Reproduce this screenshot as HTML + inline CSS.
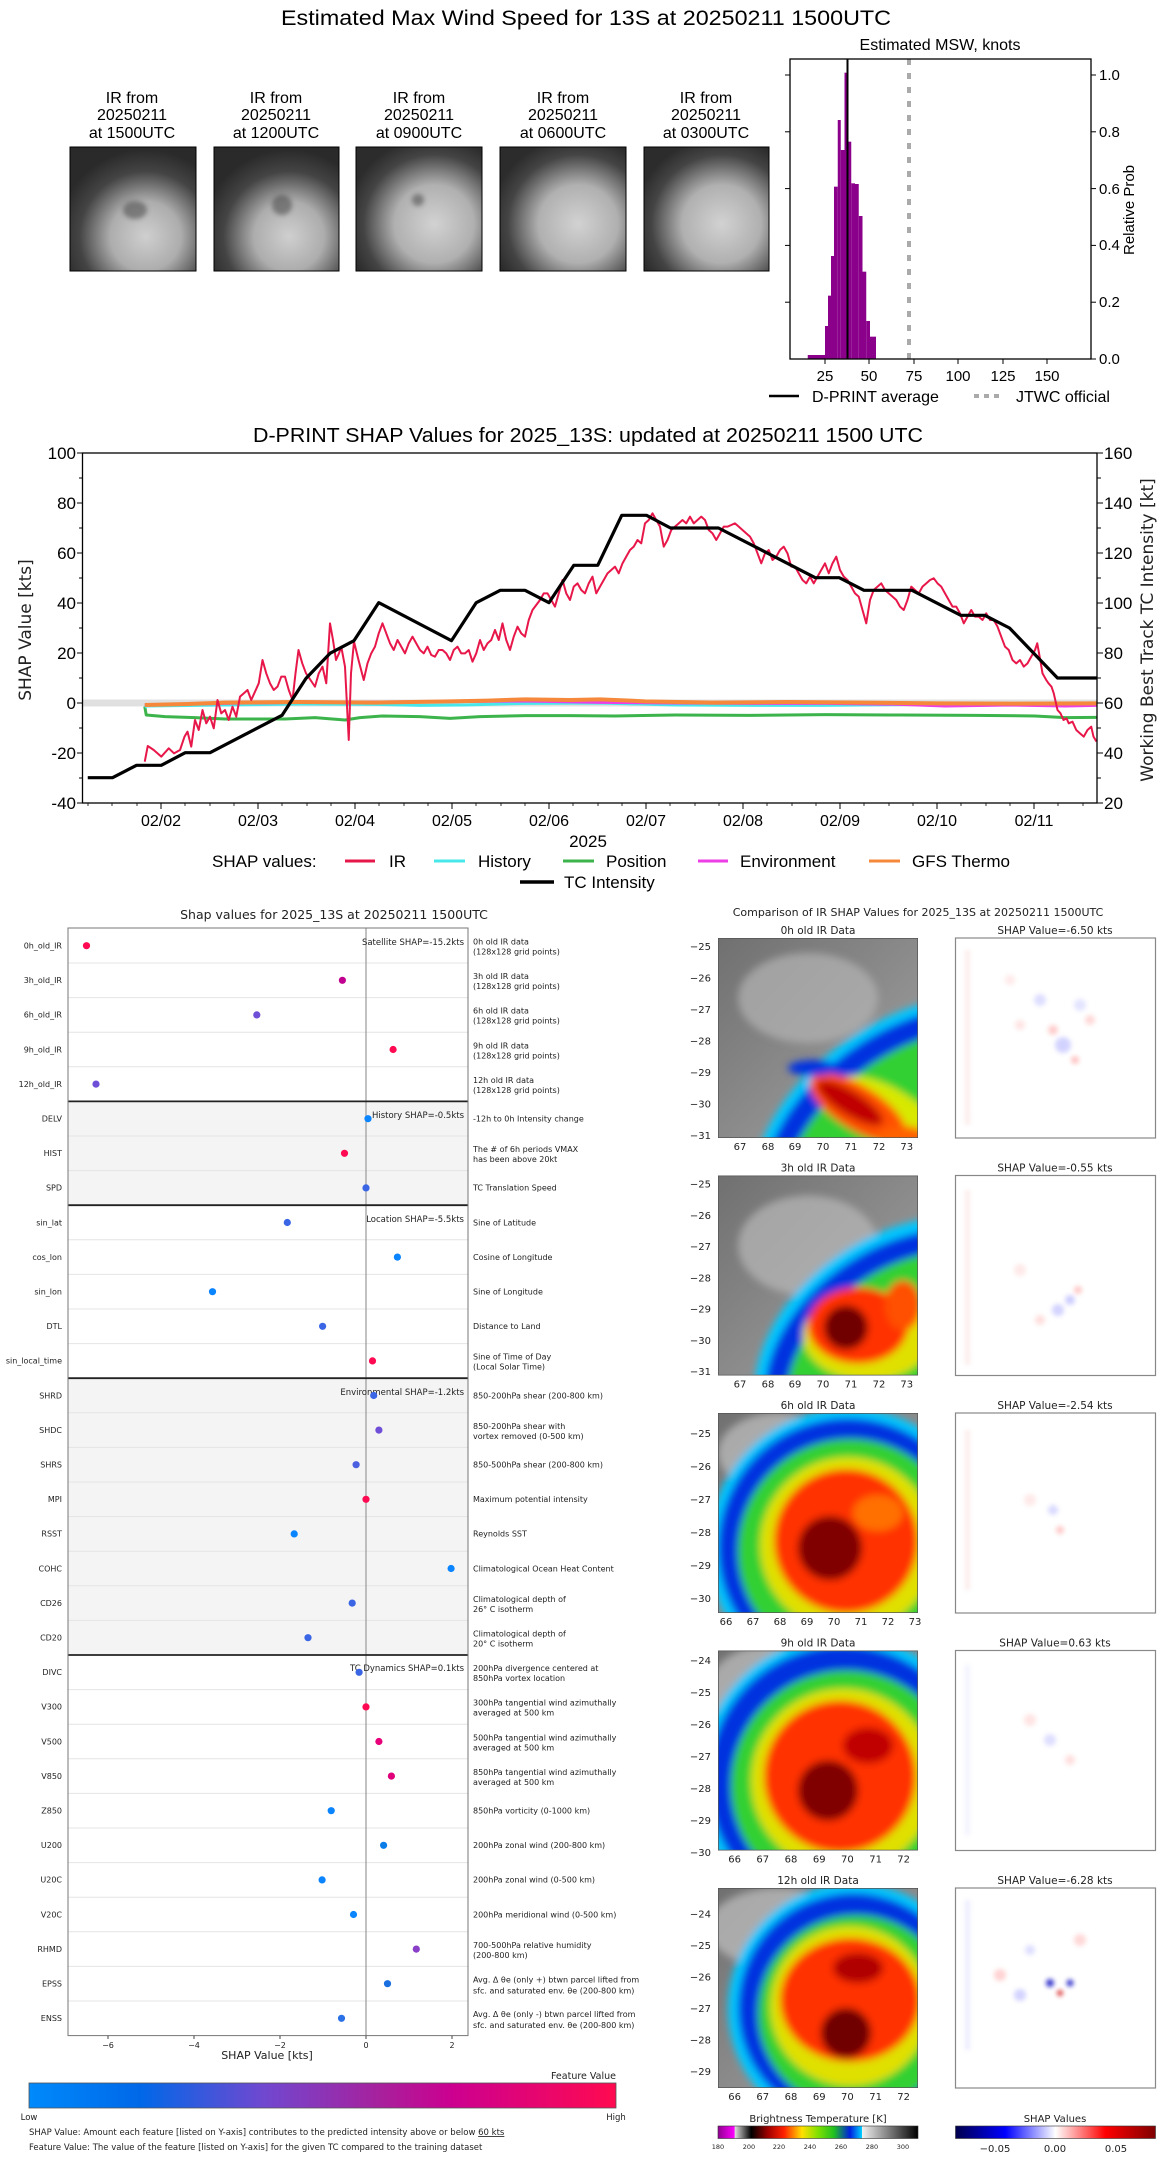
<!DOCTYPE html>
<html><head><meta charset="utf-8"><style>
html,body{margin:0;padding:0;background:#fff;}
svg{display:block;}
text{font-family:"DejaVu Sans","Liberation Sans",sans-serif;fill:#222;}
.ls{font-family:"Liberation Sans","DejaVu Sans",sans-serif;fill:#000;}
</style></head><body>
<svg width="1168" height="2158" viewBox="0 0 1168 2158" xmlns="http://www.w3.org/2000/svg">
<defs>
<filter id="bl" x="-20%" y="-20%" width="140%" height="140%"><feGaussianBlur stdDeviation="4"/></filter>
<filter id="bl2" x="-50%" y="-50%" width="200%" height="200%"><feGaussianBlur stdDeviation="2.5"/></filter>
<radialGradient id="th1" cx="0.6" cy="0.72" r="0.7"><stop offset="0" stop-color="#cfcfcf"/><stop offset="0.4" stop-color="#adadad"/><stop offset="0.75" stop-color="#444"/><stop offset="1" stop-color="#2a2a2a"/></radialGradient>
<radialGradient id="th2" cx="0.62" cy="0.62" r="0.7"><stop offset="0" stop-color="#d2d2d2"/><stop offset="0.45" stop-color="#b0b0b0"/><stop offset="0.8" stop-color="#444"/><stop offset="1" stop-color="#2c2c2c"/></radialGradient>
<linearGradient id="grayb" x1="0" y1="0" x2="1" y2="1"><stop offset="0" stop-color="#707070"/><stop offset="1" stop-color="#a4a4a4"/></linearGradient>
<linearGradient id="fv" x1="0" x2="1"><stop offset="0" stop-color="#008afb"/><stop offset="0.19" stop-color="#0068e8"/><stop offset="0.4" stop-color="#7048d0"/><stop offset="0.6" stop-color="#a8209c"/><stop offset="0.72" stop-color="#cc0090"/><stop offset="1" stop-color="#ff0a50"/></linearGradient>
<linearGradient id="bt" x1="0" x2="1">
<stop offset="0" stop-color="#900090"/><stop offset="0.083" stop-color="#ff00ff"/><stop offset="0.084" stop-color="#e0e0e0"/><stop offset="0.166" stop-color="#000"/><stop offset="0.25" stop-color="#a00000"/><stop offset="0.33" stop-color="#ff2000"/><stop offset="0.42" stop-color="#ffe000"/><stop offset="0.5" stop-color="#80e000"/><stop offset="0.58" stop-color="#20c020"/><stop offset="0.66" stop-color="#0020e0"/><stop offset="0.72" stop-color="#00d0ff"/><stop offset="0.721" stop-color="#f0f0f0"/><stop offset="1" stop-color="#000"/></linearGradient>
<linearGradient id="sw" x1="0" x2="1"><stop offset="0" stop-color="#00004c"/><stop offset="0.25" stop-color="#0000ff"/><stop offset="0.5" stop-color="#fff"/><stop offset="0.75" stop-color="#ff0000"/><stop offset="1" stop-color="#7f0000"/></linearGradient>
</defs>

<!-- ===== TOP SECTION ===== -->
<text class="ls" x="586" y="25" font-size="21" text-anchor="middle" textLength="610" lengthAdjust="spacingAndGlyphs">Estimated Max Wind Speed for 13S at 20250211 1500UTC</text>
<g class="ls" font-size="16" text-anchor="middle">
<text class="ls" x="132" y="103">IR from</text><text class="ls" x="132" y="120">20250211</text><text class="ls" x="132" y="138">at 1500UTC</text>
<text class="ls" x="276" y="103">IR from</text><text class="ls" x="276" y="120">20250211</text><text class="ls" x="276" y="138">at 1200UTC</text>
<text class="ls" x="419" y="103">IR from</text><text class="ls" x="419" y="120">20250211</text><text class="ls" x="419" y="138">at 0900UTC</text>
<text class="ls" x="563" y="103">IR from</text><text class="ls" x="563" y="120">20250211</text><text class="ls" x="563" y="138">at 0600UTC</text>
<text class="ls" x="706" y="103">IR from</text><text class="ls" x="706" y="120">20250211</text><text class="ls" x="706" y="138">at 0300UTC</text>
</g>
<g stroke="#000" stroke-width="1">
<rect x="70" y="147" width="126" height="124" fill="url(#th1)"/>
<rect x="214" y="147" width="125" height="124" fill="url(#th1)"/>
<rect x="356" y="147" width="126" height="124" fill="url(#th2)"/>
<rect x="500" y="147" width="126" height="124" fill="url(#th2)"/>
<rect x="644" y="147" width="125" height="124" fill="url(#th2)"/>
</g>
<g filter="url(#bl2)" fill="#333" opacity="0.45">
<ellipse cx="135" cy="210" rx="12" ry="9"/><ellipse cx="282" cy="205" rx="10" ry="10"/><ellipse cx="418" cy="200" rx="6" ry="6"/>
</g>

<!-- histogram -->
<g transform="scale(0.75,0.33333)" fill="#8b008b">
<rect x="1077" y="1065" width="23" height="13"/><rect x="1100" y="978" width="4" height="100"/><rect x="1104" y="887" width="4" height="191"/>
<rect x="1108" y="768" width="4" height="310"/><rect x="1112" y="560" width="5" height="518"/><rect x="1117" y="360" width="4" height="718"/>
<rect x="1121" y="450" width="5" height="628"/><rect x="1126" y="218" width="4" height="860"/><rect x="1130" y="425" width="5" height="653"/>
<rect x="1135" y="550" width="5" height="528"/><rect x="1140" y="552" width="5" height="526"/><rect x="1145" y="648" width="5" height="430"/>
<rect x="1150" y="815" width="5" height="263"/><rect x="1155" y="963" width="5" height="115"/><rect x="1160" y="1010" width="8" height="68"/>
</g>
<line x1="847.5" y1="59" x2="847.5" y2="359" stroke="#000" stroke-width="2"/>
<line x1="909" y1="59" x2="909" y2="359" stroke="#aaa" stroke-width="4" stroke-dasharray="6,8"/>
<rect x="790" y="59" width="301" height="300" fill="none" stroke="#000" stroke-width="1.3"/>
<text class="ls" x="940" y="50" font-size="16" text-anchor="middle">Estimated MSW, knots</text>
<g stroke="#000" stroke-width="1">
<line x1="1091" y1="359" x2="1096" y2="359"/><line x1="1091" y1="302.2" x2="1096" y2="302.2"/><line x1="1091" y1="245.4" x2="1096" y2="245.4"/><line x1="1091" y1="188.6" x2="1096" y2="188.6"/><line x1="1091" y1="131.8" x2="1096" y2="131.8"/><line x1="1091" y1="75" x2="1096" y2="75"/>
<line x1="785" y1="302.2" x2="790" y2="302.2"/><line x1="785" y1="245.4" x2="790" y2="245.4"/><line x1="785" y1="188.6" x2="790" y2="188.6"/><line x1="785" y1="131.8" x2="790" y2="131.8"/><line x1="785" y1="75" x2="790" y2="75"/>
<line x1="825" y1="359" x2="825" y2="364"/><line x1="869" y1="359" x2="869" y2="364"/><line x1="914" y1="359" x2="914" y2="364"/><line x1="958" y1="359" x2="958" y2="364"/><line x1="1003" y1="359" x2="1003" y2="364"/><line x1="1047" y1="359" x2="1047" y2="364"/>
</g>
<g class="ls" font-size="15">
<text class="ls" x="1099" y="364">0.0</text><text class="ls" x="1099" y="307">0.2</text><text class="ls" x="1099" y="250">0.4</text><text class="ls" x="1099" y="194">0.6</text><text class="ls" x="1099" y="137">0.8</text><text class="ls" x="1099" y="80">1.0</text>
</g>
<g class="ls" font-size="15" text-anchor="middle">
<text class="ls" x="825" y="381">25</text><text class="ls" x="869" y="381">50</text><text class="ls" x="914" y="381">75</text><text class="ls" x="958" y="381">100</text><text class="ls" x="1003" y="381">125</text><text class="ls" x="1047" y="381">150</text>
</g>
<text class="ls" font-size="15" transform="translate(1134,210) rotate(-90)" text-anchor="middle">Relative Prob</text>
<line x1="769" y1="396" x2="799" y2="396" stroke="#000" stroke-width="2.5"/>
<text class="ls" x="812" y="402" font-size="16">D-PRINT average</text>
<line x1="974" y1="396" x2="1004" y2="396" stroke="#aaa" stroke-width="4" stroke-dasharray="5,5"/>
<text class="ls" x="1016" y="402" font-size="16">JTWC official</text>

<!-- ===== SECTION 2 ===== -->
<text class="ls" x="588" y="442" font-size="20" text-anchor="middle" textLength="670" lengthAdjust="spacingAndGlyphs">D-PRINT SHAP Values for 2025_13S: updated at 20250211 1500 UTC</text>
<rect x="83" y="699.5" width="1014" height="7" fill="#e0e0e0"/>
<g transform="translate(0,420) scale(0.75,0.33333)" fill="none" stroke-linejoin="round">
<path vector-effect="non-scaling-stroke" stroke="#3cb44b" stroke-width="3" d="M193,860 L195,885 L220,890 L260,893 L300,897 L340,897 L380,897 L420,893 L460,900 L480,893 L510,888 L560,890 L600,895 L640,890 L700,887 L760,887 L820,888 L900,885 L1000,886 L1100,884 L1200,885 L1300,886 L1380,888 L1420,893 L1462,892"/>
<path vector-effect="non-scaling-stroke" stroke="#48e8ea" stroke-width="3" d="M193,862 L195,858 L300,855 L400,852 L500,853 L560,856 L620,855 L700,850 L800,849 L900,855 L1000,856 L1100,856 L1200,854 L1300,852 L1400,852 L1462,850"/>
<path vector-effect="non-scaling-stroke" stroke="#ee3ee6" stroke-width="3" d="M193,855 L300,850 L400,847 L500,846 L600,845 L700,843 L800,847 L900,849 L1000,850 L1100,850 L1200,853 L1260,858 L1350,855 L1420,858 L1462,856"/>
<path vector-effect="non-scaling-stroke" stroke="#f5883a" stroke-width="4" d="M193,855 L250,852 L300,848 L400,846 L500,848 L600,844 L650,842 L700,838 L760,840 L800,838 L860,844 L950,848 L1050,846 L1150,848 L1250,850 L1350,851 L1462,850"/>
<path vector-effect="non-scaling-stroke" stroke="#e8174a" stroke-width="2" d="M193,1025 L197,978 L205,990 L215,1010 L225,985 L232,1000 L240,990 L246,950 L250,935 L255,980 L260,900 L265,930 L270,870 L275,910 L280,890 L285,925 L290,840 L295,880 L300,870 L305,900 L310,860 L315,890 L320,830 L325,820 L330,810 L335,840 L340,815 L345,790 L350,720 L355,760 L360,790 L365,810 L370,800 L375,770 L380,770 L385,810 L390,840 L394,760 L398,690 L403,730 L408,760 L414,780 L420,800 L425,760 L430,740 L435,790 L440,610 L444,660 L448,720 L452,700 L455,680 L460,740 L465,960 L468,760 L472,665 L478,720 L485,780 L490,730 L495,700 L500,680 L505,640 L510,610 L515,640 L520,670 L525,690 L530,660 L535,680 L540,700 L545,670 L550,650 L555,670 L560,690 L565,700 L570,680 L575,705 L580,710 L585,690 L590,690 L595,700 L600,720 L605,690 L610,680 L615,700 L620,700 L625,690 L630,725 L635,700 L640,660 L645,690 L650,670 L655,660 L660,630 L665,660 L670,610 L675,660 L680,690 L685,650 L690,620 L695,640 L700,650 L705,600 L710,570 L715,555 L720,540 L725,520 L730,520 L735,540 L740,560 L745,520 L750,480 L755,520 L760,540 L765,500 L770,490 L775,510 L780,520 L785,490 L790,470 L795,520 L800,500 L805,480 L810,460 L815,450 L820,440 L825,460 L830,430 L835,410 L840,390 L845,380 L850,360 L855,370 L860,310 L865,300 L870,280 L875,300 L880,320 L885,380 L890,360 L895,330 L900,320 L905,310 L910,300 L915,310 L920,290 L925,310 L930,300 L935,290 L940,300 L945,330 L950,340 L955,360 L960,340 L965,320 L970,320 L975,315 L980,310 L985,320 L990,330 L995,340 L1000,350 L1005,370 L1010,400 L1015,430 L1020,400 L1025,390 L1030,420 L1035,410 L1040,390 L1045,380 L1050,400 L1055,440 L1060,440 L1065,460 L1070,480 L1075,490 L1080,470 L1085,490 L1090,470 L1095,450 L1100,430 L1105,460 L1110,430 L1115,410 L1120,450 L1125,470 L1130,480 L1135,500 L1140,520 L1145,530 L1150,570 L1155,610 L1160,540 L1165,510 L1170,500 L1175,490 L1180,510 L1185,520 L1190,530 L1195,540 L1200,560 L1205,570 L1210,540 L1215,500 L1220,510 L1225,520 L1230,500 L1235,490 L1240,480 L1245,475 L1250,490 L1255,500 L1260,520 L1265,540 L1270,560 L1275,560 L1280,580 L1285,610 L1290,590 L1295,570 L1300,590 L1305,590 L1310,600 L1315,580 L1320,600 L1325,600 L1330,620 L1335,650 L1340,680 L1345,690 L1350,720 L1355,730 L1360,720 L1365,740 L1370,730 L1375,710 L1380,690 L1383,670 L1387,720 L1390,760 L1395,780 L1398,790 L1402,800 L1405,820 L1408,850 L1410,870 L1414,880 L1418,900 L1422,895 L1425,910 L1430,905 L1435,930 L1440,940 L1445,950 L1450,930 L1455,920 L1458,950 L1462,965"/>
<path vector-effect="non-scaling-stroke" stroke="#000" stroke-width="3.2" d="M117,1073 L150,1073 L182,1036 L215,1036 L247,998 L280,998 L376,886 L408,775 L440,700 L472,662 L505,548 L602,662 L635,548 L667,511 L700,511 L732,548 L765,436 L797,436 L829,286 L862,286 L894,324 L958,324 L1087,473 L1119,473 L1152,511 L1216,511 L1281,586 L1313,586 L1346,624 L1410,774 L1462,774"/>
</g>
<rect x="82.5" y="453" width="1014.5" height="350" fill="none" stroke="#000" stroke-width="1.3"/>
<g stroke="#000" stroke-width="1">
<line x1="77" y1="453" x2="82.5" y2="453"/><line x1="77" y1="503" x2="82.5" y2="503"/><line x1="77" y1="553" x2="82.5" y2="553"/><line x1="77" y1="603" x2="82.5" y2="603"/><line x1="77" y1="653" x2="82.5" y2="653"/><line x1="77" y1="703" x2="82.5" y2="703"/><line x1="77" y1="753" x2="82.5" y2="753"/><line x1="77" y1="803" x2="82.5" y2="803"/>
<line x1="79" y1="478" x2="82.5" y2="478"/><line x1="79" y1="528" x2="82.5" y2="528"/><line x1="79" y1="578" x2="82.5" y2="578"/><line x1="79" y1="628" x2="82.5" y2="628"/><line x1="79" y1="678" x2="82.5" y2="678"/><line x1="79" y1="728" x2="82.5" y2="728"/><line x1="79" y1="778" x2="82.5" y2="778"/>
<line x1="1097" y1="453" x2="1103" y2="453"/><line x1="1097" y1="503" x2="1103" y2="503"/><line x1="1097" y1="553" x2="1103" y2="553"/><line x1="1097" y1="603" x2="1103" y2="603"/><line x1="1097" y1="653" x2="1103" y2="653"/><line x1="1097" y1="703" x2="1103" y2="703"/><line x1="1097" y1="753" x2="1103" y2="753"/><line x1="1097" y1="803" x2="1103" y2="803"/>
<line x1="1097" y1="478" x2="1101" y2="478"/><line x1="1097" y1="528" x2="1101" y2="528"/><line x1="1097" y1="578" x2="1101" y2="578"/><line x1="1097" y1="628" x2="1101" y2="628"/><line x1="1097" y1="678" x2="1101" y2="678"/><line x1="1097" y1="728" x2="1101" y2="728"/><line x1="1097" y1="778" x2="1101" y2="778"/>
<line x1="161" y1="803" x2="161" y2="809"/><line x1="258" y1="803" x2="258" y2="809"/><line x1="355" y1="803" x2="355" y2="809"/><line x1="452" y1="803" x2="452" y2="809"/><line x1="549" y1="803" x2="549" y2="809"/><line x1="646" y1="803" x2="646" y2="809"/><line x1="743" y1="803" x2="743" y2="809"/><line x1="840" y1="803" x2="840" y2="809"/><line x1="937" y1="803" x2="937" y2="809"/><line x1="1034" y1="803" x2="1034" y2="809"/>
</g>
<g stroke="#000" stroke-width="0.8">
<line x1="88" y1="803" x2="88" y2="806"/><line x1="112" y1="803" x2="112" y2="806"/><line x1="137" y1="803" x2="137" y2="806"/><line x1="185" y1="803" x2="185" y2="806"/><line x1="210" y1="803" x2="210" y2="806"/><line x1="234" y1="803" x2="234" y2="806"/><line x1="282" y1="803" x2="282" y2="806"/><line x1="307" y1="803" x2="307" y2="806"/><line x1="331" y1="803" x2="331" y2="806"/><line x1="379" y1="803" x2="379" y2="806"/><line x1="404" y1="803" x2="404" y2="806"/><line x1="428" y1="803" x2="428" y2="806"/><line x1="476" y1="803" x2="476" y2="806"/><line x1="501" y1="803" x2="501" y2="806"/><line x1="525" y1="803" x2="525" y2="806"/><line x1="573" y1="803" x2="573" y2="806"/><line x1="598" y1="803" x2="598" y2="806"/><line x1="622" y1="803" x2="622" y2="806"/><line x1="670" y1="803" x2="670" y2="806"/><line x1="695" y1="803" x2="695" y2="806"/><line x1="719" y1="803" x2="719" y2="806"/><line x1="767" y1="803" x2="767" y2="806"/><line x1="792" y1="803" x2="792" y2="806"/><line x1="816" y1="803" x2="816" y2="806"/><line x1="864" y1="803" x2="864" y2="806"/><line x1="889" y1="803" x2="889" y2="806"/><line x1="913" y1="803" x2="913" y2="806"/><line x1="961" y1="803" x2="961" y2="806"/><line x1="986" y1="803" x2="986" y2="806"/><line x1="1010" y1="803" x2="1010" y2="806"/><line x1="1058" y1="803" x2="1058" y2="806"/><line x1="1083" y1="803" x2="1083" y2="806"/>
</g>
<g class="ls" font-size="17" text-anchor="end">
<text class="ls" x="76" y="459">100</text><text class="ls" x="76" y="509">80</text><text class="ls" x="76" y="559">60</text><text class="ls" x="76" y="609">40</text><text class="ls" x="76" y="659">20</text><text class="ls" x="76" y="709">0</text><text class="ls" x="76" y="759">-20</text><text class="ls" x="76" y="809">-40</text>
</g>
<g class="ls" font-size="17">
<text class="ls" x="1104" y="459">160</text><text class="ls" x="1104" y="509">140</text><text class="ls" x="1104" y="559">120</text><text class="ls" x="1104" y="609">100</text><text class="ls" x="1104" y="659">80</text><text class="ls" x="1104" y="709">60</text><text class="ls" x="1104" y="759">40</text><text class="ls" x="1104" y="809">20</text>
</g>
<g class="ls" font-size="16" text-anchor="middle">
<text class="ls" x="161" y="826">02/02</text><text class="ls" x="258" y="826">02/03</text><text class="ls" x="355" y="826">02/04</text><text class="ls" x="452" y="826">02/05</text><text class="ls" x="549" y="826">02/06</text><text class="ls" x="646" y="826">02/07</text><text class="ls" x="743" y="826">02/08</text><text class="ls" x="840" y="826">02/09</text><text class="ls" x="937" y="826">02/10</text><text class="ls" x="1034" y="826">02/11</text>
<text class="ls" x="588" y="847" font-size="17">2025</text>
</g>
<text font-size="17" fill="#000" transform="translate(31,630) rotate(-90)" text-anchor="middle">SHAP Value [kts]</text>
<text font-size="17" fill="#000" transform="translate(1153,630) rotate(-90)" text-anchor="middle">Working Best Track TC Intensity [kt]</text>
<g class="ls" font-size="17">
<text class="ls" x="212" y="867">SHAP values:</text>
<line x1="345" y1="861" x2="375" y2="861" stroke="#e8174a" stroke-width="3"/><text class="ls" x="389" y="867">IR</text>
<line x1="434" y1="861" x2="465" y2="861" stroke="#48e8ea" stroke-width="3"/><text class="ls" x="478" y="867">History</text>
<line x1="563" y1="861" x2="594" y2="861" stroke="#3cb44b" stroke-width="3"/><text class="ls" x="606" y="867">Position</text>
<line x1="698" y1="861" x2="728" y2="861" stroke="#ee3ee6" stroke-width="3"/><text class="ls" x="740" y="867">Environment</text>
<line x1="869" y1="861" x2="900" y2="861" stroke="#f5883a" stroke-width="3"/><text class="ls" x="912" y="867">GFS Thermo</text>
<line x1="520" y1="882" x2="554" y2="882" stroke="#000" stroke-width="3.5"/><text class="ls" x="564" y="888">TC Intensity</text>
</g>

<!-- ===== SECTION 3 LEFT ===== -->
<text x="334" y="919" font-size="12.5" text-anchor="middle" fill="#111">Shap values for 2025_13S at 20250211 1500UTC</text>
<rect x="68" y="1101.4" width="400" height="103.8" fill="#f4f4f4"/>
<rect x="68" y="1378.2" width="400" height="276.8" fill="#f4f4f4"/>
<g stroke="#e4e4e4" stroke-width="1">
<line x1="68" y1="963" x2="468" y2="963"/><line x1="68" y1="997.6" x2="468" y2="997.6"/><line x1="68" y1="1032.2" x2="468" y2="1032.2"/><line x1="68" y1="1066.8" x2="468" y2="1066.8"/>
<line x1="68" y1="1136" x2="468" y2="1136"/><line x1="68" y1="1170.6" x2="468" y2="1170.6"/>
<line x1="68" y1="1239.8" x2="468" y2="1239.8"/><line x1="68" y1="1274.4" x2="468" y2="1274.4"/><line x1="68" y1="1309" x2="468" y2="1309"/><line x1="68" y1="1343.6" x2="468" y2="1343.6"/>
<line x1="68" y1="1412.8" x2="468" y2="1412.8"/><line x1="68" y1="1447.4" x2="468" y2="1447.4"/><line x1="68" y1="1482" x2="468" y2="1482"/><line x1="68" y1="1516.6" x2="468" y2="1516.6"/><line x1="68" y1="1551.2" x2="468" y2="1551.2"/><line x1="68" y1="1585.8" x2="468" y2="1585.8"/><line x1="68" y1="1620.4" x2="468" y2="1620.4"/>
<line x1="68" y1="1689.6" x2="468" y2="1689.6"/><line x1="68" y1="1724.2" x2="468" y2="1724.2"/><line x1="68" y1="1758.8" x2="468" y2="1758.8"/><line x1="68" y1="1793.4" x2="468" y2="1793.4"/><line x1="68" y1="1828" x2="468" y2="1828"/><line x1="68" y1="1862.6" x2="468" y2="1862.6"/><line x1="68" y1="1897.2" x2="468" y2="1897.2"/><line x1="68" y1="1931.8" x2="468" y2="1931.8"/><line x1="68" y1="1966.4" x2="468" y2="1966.4"/><line x1="68" y1="2001" x2="468" y2="2001"/>
</g>
<line x1="366" y1="928" x2="366" y2="2035.6" stroke="#999" stroke-width="1.2"/>
<g stroke="#222" stroke-width="1.8">
<line x1="68" y1="1101.4" x2="468" y2="1101.4"/><line x1="68" y1="1205.2" x2="468" y2="1205.2"/><line x1="68" y1="1378.2" x2="468" y2="1378.2"/><line x1="68" y1="1655" x2="468" y2="1655"/>
</g>
<rect x="68" y="928" width="400" height="1107.6" fill="none" stroke="#777" stroke-width="1"/>
<g font-size="8.5" text-anchor="end" fill="#222">
<text x="464" y="945">Satellite SHAP=-15.2kts</text><text x="464" y="1118">History SHAP=-0.5kts</text><text x="464" y="1222">Location SHAP=-5.5kts</text><text x="464" y="1395">Environmental SHAP=-1.2kts</text><text x="464" y="1671">TC Dynamics SHAP=0.1kts</text>
</g>
<g font-size="8" text-anchor="end" fill="#222">
<text x="62" y="948.5">0h_old_IR</text><text x="62" y="983">3h_old_IR</text><text x="62" y="1017.7">6h_old_IR</text><text x="62" y="1052.3">9h_old_IR</text><text x="62" y="1086.9">12h_old_IR</text>
<text x="62" y="1121.5">DELV</text><text x="62" y="1156.1">HIST</text><text x="62" y="1190.7">SPD</text>
<text x="62" y="1225.3">sin_lat</text><text x="62" y="1259.9">cos_lon</text><text x="62" y="1294.5">sin_lon</text><text x="62" y="1329.1">DTL</text><text x="62" y="1363.7">sin_local_time</text>
<text x="62" y="1398.3">SHRD</text><text x="62" y="1432.9">SHDC</text><text x="62" y="1467.5">SHRS</text><text x="62" y="1502.1">MPI</text><text x="62" y="1536.7">RSST</text><text x="62" y="1571.3">COHC</text><text x="62" y="1605.9">CD26</text><text x="62" y="1640.5">CD20</text>
<text x="62" y="1675.1">DIVC</text><text x="62" y="1709.7">V300</text><text x="62" y="1744.3">V500</text><text x="62" y="1778.9">V850</text><text x="62" y="1813.5">Z850</text><text x="62" y="1848.1">U200</text><text x="62" y="1882.7">U20C</text><text x="62" y="1917.3">V20C</text><text x="62" y="1951.9">RHMD</text><text x="62" y="1986.5">EPSS</text><text x="62" y="2021.1">ENSS</text>
</g>
<g font-size="8" fill="#222">
<text x="473" y="944.5">0h old IR data</text><text x="473" y="954.5">(128x128 grid points)</text>
<text x="473" y="979">3h old IR data</text><text x="473" y="989">(128x128 grid points)</text>
<text x="473" y="1013.7">6h old IR data</text><text x="473" y="1023.7">(128x128 grid points)</text>
<text x="473" y="1048.3">9h old IR data</text><text x="473" y="1058.3">(128x128 grid points)</text>
<text x="473" y="1082.9">12h old IR data</text><text x="473" y="1092.9">(128x128 grid points)</text>
<text x="473" y="1121.5">-12h to 0h Intensity change</text>
<text x="473" y="1152.1">The # of 6h periods VMAX</text><text x="473" y="1162.1">has been above 20kt</text>
<text x="473" y="1190.7">TC Translation Speed</text>
<text x="473" y="1225.3">Sine of Latitude</text><text x="473" y="1259.9">Cosine of Longitude</text><text x="473" y="1294.5">Sine of Longitude</text><text x="473" y="1329.1">Distance to Land</text>
<text x="473" y="1359.7">Sine of Time of Day</text><text x="473" y="1369.7">(Local Solar Time)</text>
<text x="473" y="1398.3">850-200hPa shear (200-800 km)</text>
<text x="473" y="1428.9">850-200hPa shear with</text><text x="473" y="1438.9">vortex removed (0-500 km)</text>
<text x="473" y="1467.5">850-500hPa shear (200-800 km)</text>
<text x="473" y="1502.1">Maximum potential intensity</text>
<text x="473" y="1536.7">Reynolds SST</text>
<text x="473" y="1571.3">Climatological Ocean Heat Content</text>
<text x="473" y="1601.9">Climatological depth of</text><text x="473" y="1611.9">26° C isotherm</text>
<text x="473" y="1636.5">Climatological depth of</text><text x="473" y="1646.5">20° C isotherm</text>
<text x="473" y="1671.1">200hPa divergence centered at</text><text x="473" y="1681.1">850hPa vortex location</text>
<text x="473" y="1705.7">300hPa tangential wind azimuthally</text><text x="473" y="1715.7">averaged at 500 km</text>
<text x="473" y="1740.3">500hPa tangential wind azimuthally</text><text x="473" y="1750.3">averaged at 500 km</text>
<text x="473" y="1774.9">850hPa tangential wind azimuthally</text><text x="473" y="1784.9">averaged at 500 km</text>
<text x="473" y="1813.5">850hPa vorticity (0-1000 km)</text>
<text x="473" y="1848.1">200hPa zonal wind (200-800 km)</text>
<text x="473" y="1882.7">200hPa zonal wind (0-500 km)</text>
<text x="473" y="1917.3">200hPa meridional wind (0-500 km)</text>
<text x="473" y="1947.9">700-500hPa relative humidity</text><text x="473" y="1957.9">(200-800 km)</text>
<text x="473" y="1982.5">Avg. Δ θe (only +) btwn parcel lifted from</text><text x="473" y="1993.5">sfc. and saturated env. θe (200-800 km)</text>
<text x="473" y="2017.1">Avg. Δ θe (only -) btwn parcel lifted from</text><text x="473" y="2028.1">sfc. and saturated env. θe (200-800 km)</text>
</g>
<g>
<circle cx="86.5" cy="945.7" r="3.6" fill="#ff0a52"/><circle cx="342.4" cy="980.3" r="3.6" fill="#c2008f"/><circle cx="256.8" cy="1014.9" r="3.6" fill="#6f4fd8"/><circle cx="393.1" cy="1049.5" r="3.6" fill="#ff0a52"/><circle cx="96" cy="1084.1" r="3.6" fill="#6f4fd8"/>
<circle cx="368" cy="1118.7" r="3.6" fill="#0a84ff"/><circle cx="344.5" cy="1153.3" r="3.6" fill="#ff0a52"/><circle cx="366" cy="1187.9" r="3.6" fill="#3a66e6"/>
<circle cx="287.3" cy="1222.5" r="3.6" fill="#3a66e6"/><circle cx="397.4" cy="1257.1" r="3.6" fill="#0a84ff"/><circle cx="212.5" cy="1291.7" r="3.6" fill="#0a84ff"/><circle cx="322.6" cy="1326.3" r="3.6" fill="#3a66e6"/><circle cx="372.5" cy="1360.9" r="3.6" fill="#ff0a52"/>
<circle cx="373.7" cy="1395.5" r="3.6" fill="#3a66e6"/><circle cx="378.9" cy="1430.1" r="3.6" fill="#6f4fd8"/><circle cx="356.1" cy="1464.7" r="3.6" fill="#4a60e0"/><circle cx="366" cy="1499.3" r="3.6" fill="#ff0a52"/><circle cx="294.2" cy="1533.9" r="3.6" fill="#0a84ff"/><circle cx="451.1" cy="1568.5" r="3.6" fill="#0a84ff"/><circle cx="352.2" cy="1603.1" r="3.6" fill="#3a66e6"/><circle cx="308" cy="1637.7" r="3.6" fill="#3a66e6"/>
<circle cx="359.1" cy="1672.3" r="3.6" fill="#3a66e6"/><circle cx="366" cy="1706.9" r="3.6" fill="#ff0a52"/><circle cx="378.9" cy="1741.5" r="3.6" fill="#e8007a"/><circle cx="391.4" cy="1776.1" r="3.6" fill="#e0007a"/><circle cx="331.2" cy="1810.7" r="3.6" fill="#0a84ff"/><circle cx="383.6" cy="1845.3" r="3.6" fill="#0a7de8"/><circle cx="322.1" cy="1879.9" r="3.6" fill="#0a84ff"/><circle cx="353.5" cy="1914.5" r="3.6" fill="#0a84ff"/><circle cx="416.3" cy="1949.1" r="3.6" fill="#8a3fc8"/><circle cx="387.5" cy="1983.7" r="3.6" fill="#1a6fe0"/><circle cx="341.5" cy="2018.3" r="3.6" fill="#2a70e6"/>
</g>
<g stroke="#444" stroke-width="1">
<line x1="108" y1="2035.6" x2="108" y2="2039"/><line x1="194" y1="2035.6" x2="194" y2="2039"/><line x1="280" y1="2035.6" x2="280" y2="2039"/><line x1="366" y1="2035.6" x2="366" y2="2039"/><line x1="452" y1="2035.6" x2="452" y2="2039"/>
</g>
<g font-size="8" text-anchor="middle" fill="#222">
<text x="108" y="2048">−6</text><text x="194" y="2048">−4</text><text x="280" y="2048">−2</text><text x="366" y="2048">0</text><text x="452" y="2048">2</text>
</g>
<text x="267" y="2059" font-size="11" text-anchor="middle" fill="#111">SHAP Value [kts]</text>
<text x="616" y="2079" font-size="9.5" text-anchor="end" fill="#222">Feature Value</text>
<rect x="29" y="2083" width="587" height="25" fill="url(#fv)" stroke="#555" stroke-width="0.8"/>
<text x="29" y="2120" font-size="8.5" text-anchor="middle" fill="#222">Low</text>
<text x="616" y="2120" font-size="8.5" text-anchor="middle" fill="#222">High</text>
<text x="29" y="2135" font-size="8.5" fill="#222">SHAP Value: Amount each feature [listed on Y-axis] contributes to the predicted intensity above or below <tspan text-decoration="underline">60 kts</tspan></text>
<text x="29" y="2150" font-size="8.5" fill="#222">Feature Value: The value of the feature [listed on Y-axis] for the given TC compared to the training dataset</text>

<!-- ===== SECTION 3 RIGHT ===== -->
<text x="918" y="916" font-size="11" text-anchor="middle" fill="#111">Comparison of IR SHAP Values for 2025_13S at 20250211 1500UTC</text>

<!-- panel 1 -->
<text x="818" y="934" font-size="10.5" text-anchor="middle" fill="#111">0h old IR Data</text>
<text x="1055" y="934" font-size="10.5" text-anchor="middle" fill="#111">SHAP Value=-6.50 kts</text>
<svg x="718" y="938" width="200" height="200" overflow="hidden">
<rect width="200" height="200" fill="url(#grayb)"/>
<g filter="url(#bl)">
<ellipse cx="90" cy="60" rx="70" ry="45" fill="#b4b4b4" opacity="0.7"/>
<ellipse cx="200" cy="205" rx="185" ry="125" transform="rotate(-35 200 205)" fill="#00c8ff"/>
<ellipse cx="200" cy="205" rx="175" ry="115" transform="rotate(-35 200 205)" fill="#0030e0"/>
<ellipse cx="205" cy="212" rx="158" ry="100" transform="rotate(-35 205 212)" fill="#30d030"/>
<ellipse cx="170" cy="175" rx="60" ry="25" transform="rotate(30 170 175)" fill="#d8e800"/>
<ellipse cx="140" cy="170" rx="55" ry="22" transform="rotate(32 140 170)" fill="#ff5000"/>
<ellipse cx="132" cy="165" rx="38" ry="12" transform="rotate(32 132 165)" fill="#c00000"/>
<ellipse cx="185" cy="200" rx="25" ry="12" fill="#ff6000"/>
<ellipse cx="95" cy="130" rx="25" ry="8" fill="#0030e0"/>
</g>
<rect width="200" height="200" fill="none" stroke="#555" stroke-width="1.5"/>
</svg>
<!-- panel 2 -->
<text x="818" y="1171.5" font-size="10.5" text-anchor="middle" fill="#111">3h old IR Data</text>
<text x="1055" y="1171.5" font-size="10.5" text-anchor="middle" fill="#111">SHAP Value=-0.55 kts</text>
<svg x="718" y="1175.5" width="200" height="200" overflow="hidden">
<rect width="200" height="200" fill="url(#grayb)"/>
<g filter="url(#bl)">
<ellipse cx="90" cy="70" rx="70" ry="50" fill="#b8b8b8" opacity="0.7"/>
<ellipse cx="195" cy="180" rx="170" ry="125" transform="rotate(-32 195 180)" fill="#00c8ff"/>
<ellipse cx="195" cy="182" rx="160" ry="115" transform="rotate(-32 195 182)" fill="#0030e0"/>
<ellipse cx="200" cy="188" rx="142" ry="100" transform="rotate(-32 200 188)" fill="#30d030"/>
<ellipse cx="150" cy="160" rx="65" ry="45" fill="#e0e000"/>
<ellipse cx="140" cy="150" rx="50" ry="38" fill="#ff3000"/>
<circle cx="128" cy="152" r="22" fill="#700000"/>
<ellipse cx="185" cy="130" rx="18" ry="25" fill="#ff5000"/>
</g>
<rect width="200" height="200" fill="none" stroke="#555" stroke-width="1.5"/>
</svg>
<!-- panel 3 -->
<text x="818" y="1409" font-size="10.5" text-anchor="middle" fill="#111">6h old IR Data</text>
<text x="1055" y="1409" font-size="10.5" text-anchor="middle" fill="#111">SHAP Value=-2.54 kts</text>
<svg x="718" y="1413" width="200" height="200" overflow="hidden">
<rect width="200" height="200" fill="url(#grayb)"/>
<g filter="url(#bl)">
<ellipse cx="60" cy="40" rx="60" ry="40" fill="#c0c0c0" opacity="0.7"/>
<circle cx="130" cy="135" r="140" fill="#00c8ff"/>
<circle cx="130" cy="135" r="130" fill="#0030e0"/>
<circle cx="132" cy="138" r="112" fill="#30d030"/>
<circle cx="130" cy="132" r="88" fill="#e0e000"/>
<circle cx="128" cy="128" r="72" fill="#ff3000"/>
<ellipse cx="160" cy="100" rx="25" ry="18" fill="#ff7000"/>
<circle cx="112" cy="135" r="32" fill="#800000"/>
</g>
<rect width="200" height="200" fill="none" stroke="#555" stroke-width="1.5"/>
</svg>
<!-- panel 4 -->
<text x="818" y="1646.5" font-size="10.5" text-anchor="middle" fill="#111">9h old IR Data</text>
<text x="1055" y="1646.5" font-size="10.5" text-anchor="middle" fill="#111">SHAP Value=0.63 kts</text>
<svg x="718" y="1650.5" width="200" height="200" overflow="hidden">
<rect width="200" height="200" fill="url(#grayb)"/>
<g filter="url(#bl)">
<ellipse cx="50" cy="40" rx="60" ry="45" fill="#c0c0c0" opacity="0.7"/>
<circle cx="125" cy="130" r="145" fill="#00c8ff"/>
<circle cx="125" cy="130" r="135" fill="#0030e0"/>
<circle cx="128" cy="135" r="115" fill="#30d030"/>
<circle cx="125" cy="130" r="92" fill="#e0e000"/>
<circle cx="122" cy="126" r="76" fill="#ff3000"/>
<ellipse cx="150" cy="95" rx="25" ry="18" fill="#c00000"/>
<circle cx="110" cy="140" r="30" fill="#800000"/>
</g>
<rect width="200" height="200" fill="none" stroke="#555" stroke-width="1.5"/>
</svg>
<!-- panel 5 -->
<text x="818" y="1884" font-size="10.5" text-anchor="middle" fill="#111">12h old IR Data</text>
<text x="1055" y="1884" font-size="10.5" text-anchor="middle" fill="#111">SHAP Value=-6.28 kts</text>
<svg x="718" y="1888" width="200" height="200" overflow="hidden">
<rect width="200" height="200" fill="url(#grayb)"/>
<g filter="url(#bl)">
<ellipse cx="60" cy="40" rx="70" ry="40" fill="#c0c0c0" opacity="0.7"/>
<circle cx="135" cy="120" r="125" fill="#00c8ff"/>
<circle cx="135" cy="120" r="115" fill="#0030e0"/>
<circle cx="138" cy="125" r="98" fill="#30d030"/>
<circle cx="132" cy="118" r="80" fill="#e0e000"/>
<ellipse cx="132" cy="112" rx="70" ry="62" fill="#ff3000"/>
<ellipse cx="140" cy="80" rx="25" ry="15" fill="#b00000"/>
<circle cx="128" cy="145" r="25" fill="#700000"/>
</g>
<rect width="200" height="200" fill="none" stroke="#555" stroke-width="1.5"/>
</svg>

<!-- SHAP panels -->
<g>
<rect x="955.5" y="938" width="200" height="200" fill="#fff" stroke="#888" stroke-width="1.2"/>
<rect x="955.5" y="1175.5" width="200" height="200" fill="#fff" stroke="#888" stroke-width="1.2"/>
<rect x="955.5" y="1413" width="200" height="200" fill="#fff" stroke="#888" stroke-width="1.2"/>
<rect x="955.5" y="1650.5" width="200" height="200" fill="#fff" stroke="#888" stroke-width="1.2"/>
<rect x="955.5" y="1888" width="200" height="200" fill="#fff" stroke="#888" stroke-width="1.2"/>
<g filter="url(#bl2)" opacity="0.35">
<rect x="965" y="950" width="5" height="175" fill="#f6c8c8"/>
<circle cx="1063" cy="1045" r="8" fill="#8080ff"/><circle cx="1053" cy="1030" r="5" fill="#ff7070"/><circle cx="1075" cy="1060" r="4" fill="#ff5050"/><circle cx="1040" cy="1000" r="6" fill="#a0a0ff"/><circle cx="1090" cy="1020" r="5" fill="#ff9090"/><circle cx="1020" cy="1025" r="5" fill="#ffb0b0"/><circle cx="1080" cy="1005" r="6" fill="#b0b0ff"/><circle cx="1010" cy="980" r="5" fill="#ffc0c0"/>
<rect x="965" y="1190" width="5" height="175" fill="#f6c8c8"/>
<circle cx="1058" cy="1310" r="6" fill="#8080ff"/><circle cx="1078" cy="1290" r="4" fill="#ff6060"/><circle cx="1070" cy="1300" r="5" fill="#7070ff"/><circle cx="1040" cy="1320" r="5" fill="#ffa0a0"/><circle cx="1020" cy="1270" r="6" fill="#ffc0c0"/>
<rect x="965" y="1430" width="5" height="160" fill="#f6c8c8"/>
<circle cx="1053" cy="1510" r="5" fill="#9090ff"/><circle cx="1060" cy="1530" r="4" fill="#ff6060"/><circle cx="1030" cy="1500" r="6" fill="#ffc0c0"/>
<rect x="965" y="1665" width="5" height="170" fill="#d8d8ff"/>
<circle cx="1050" cy="1740" r="6" fill="#a0a0ff"/><circle cx="1070" cy="1760" r="5" fill="#ffa0a0"/><circle cx="1030" cy="1720" r="6" fill="#ffb0b0"/>
<rect x="965" y="1900" width="5" height="150" fill="#c8c8ff"/>
<circle cx="1000" cy="1975" r="6" fill="#ff8080"/><circle cx="1020" cy="1995" r="6" fill="#8080ff"/><circle cx="1080" cy="1940" r="6" fill="#ff9090"/><circle cx="1030" cy="1950" r="5" fill="#a0a0ff"/>
</g>
<g filter="url(#bl2)" opacity="0.8">
<circle cx="1050" cy="1983" r="4" fill="#0000c0"/><circle cx="1060" cy="1993" r="3" fill="#d00000"/><circle cx="1070" cy="1983" r="3.5" fill="#0000c0"/>
</g>
</g>

<!-- IR axes ticks/labels -->
<g font-size="10" text-anchor="end" fill="#222">
<text x="711" y="950">−25</text><text x="711" y="981.5">−26</text><text x="711" y="1013">−27</text><text x="711" y="1044.5">−28</text><text x="711" y="1076">−29</text><text x="711" y="1107.5">−30</text><text x="711" y="1139">−31</text>
<text x="711" y="1187.5">−25</text><text x="711" y="1218.8">−26</text><text x="711" y="1250">−27</text><text x="711" y="1281.4">−28</text><text x="711" y="1312.7">−29</text><text x="711" y="1344">−30</text><text x="711" y="1375">−31</text>
<text x="711" y="1437">−25</text><text x="711" y="1470">−26</text><text x="711" y="1503">−27</text><text x="711" y="1536">−28</text><text x="711" y="1569">−29</text><text x="711" y="1602">−30</text>
<text x="711" y="1664">−24</text><text x="711" y="1696">−25</text><text x="711" y="1728">−26</text><text x="711" y="1760">−27</text><text x="711" y="1792">−28</text><text x="711" y="1824">−29</text><text x="711" y="1856">−30</text>
<text x="711" y="1917.5">−24</text><text x="711" y="1949">−25</text><text x="711" y="1980.5">−26</text><text x="711" y="2012">−27</text><text x="711" y="2043.5">−28</text><text x="711" y="2075">−29</text>
</g>
<g font-size="10" text-anchor="middle" fill="#222">
<text x="740" y="1150">67</text><text x="768" y="1150">68</text><text x="795" y="1150">69</text><text x="823" y="1150">70</text><text x="851" y="1150">71</text><text x="879" y="1150">72</text><text x="906.7" y="1150">73</text>
<text x="740" y="1387.5">67</text><text x="768" y="1387.5">68</text><text x="795" y="1387.5">69</text><text x="823" y="1387.5">70</text><text x="851" y="1387.5">71</text><text x="879" y="1387.5">72</text><text x="906.7" y="1387.5">73</text>
<text x="726" y="1625">66</text><text x="753" y="1625">67</text><text x="780" y="1625">68</text><text x="807" y="1625">69</text><text x="834" y="1625">70</text><text x="861" y="1625">71</text><text x="888" y="1625">72</text><text x="915" y="1625">73</text>
<text x="734.6" y="1862.5">66</text><text x="762.8" y="1862.5">67</text><text x="791" y="1862.5">68</text><text x="819.2" y="1862.5">69</text><text x="847.4" y="1862.5">70</text><text x="875.6" y="1862.5">71</text><text x="903.6" y="1862.5">72</text>
<text x="734.6" y="2100">66</text><text x="762.8" y="2100">67</text><text x="791" y="2100">68</text><text x="819.2" y="2100">69</text><text x="847.4" y="2100">70</text><text x="875.6" y="2100">71</text><text x="903.6" y="2100">72</text>
</g>

<!-- colorbars -->
<text x="818" y="2122" font-size="10" text-anchor="middle" fill="#111">Brightness Temperature [K]</text>
<rect x="718" y="2126" width="200" height="12.5" fill="url(#bt)" stroke="#333" stroke-width="0.6"/>
<g font-size="6.5" text-anchor="middle" fill="#333">
<text x="718" y="2149">180</text><text x="749" y="2149">200</text><text x="779" y="2149">220</text><text x="810" y="2149">240</text><text x="841" y="2149">260</text><text x="872" y="2149">280</text><text x="903" y="2149">300</text>
</g>
<text x="1055" y="2122" font-size="10" text-anchor="middle" fill="#111">SHAP Values</text>
<rect x="955.5" y="2126" width="200" height="12.5" fill="url(#sw)" stroke="#333" stroke-width="0.6"/>
<g font-size="10" text-anchor="middle" fill="#222">
<text x="995" y="2152">−0.05</text><text x="1055" y="2152">0.00</text><text x="1116" y="2152">0.05</text>
</g>
</svg>
</body></html>
